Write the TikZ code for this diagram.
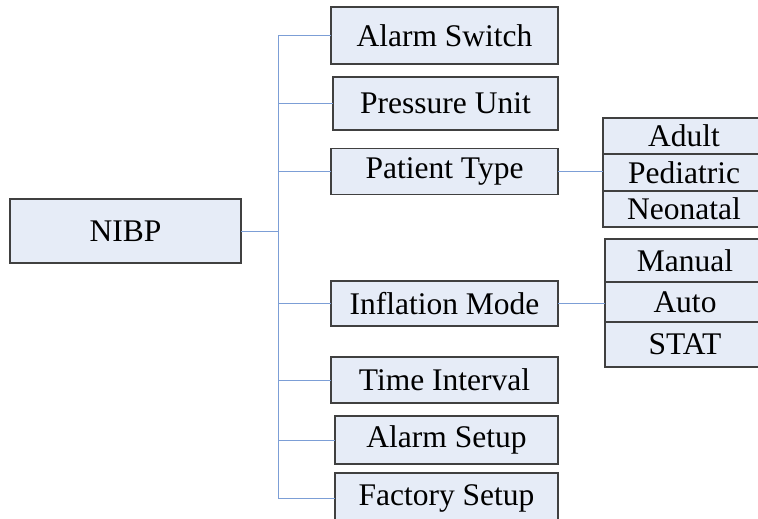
\documentclass[tikz,border=0pt]{standalone}
\usepackage{fontspec}
\setmainfont{Liberation Serif}
\definecolor{boxfill}{HTML}{E6ECF7}
\definecolor{boxline}{HTML}{404040}
\definecolor{linkblue}{HTML}{7C9ED6}
\begin{document}
\begin{tikzpicture}[x=1pt,y=1pt,
  box/.style={draw=boxline,fill=boxfill,line width=1.2pt,inner sep=0pt,outer sep=0pt,
    font=\fontsize{31.5}{36}\selectfont,text=black},
  link/.style={draw=linkblue,line width=1pt}]
\useasboundingbox (0,0) rectangle (758,-519);
\clip (0,0) rectangle (758,-519);
% main node
\node[box,minimum width=231pt,minimum height=64pt] (nibp) at (125.5,-231) {NIBP};
% second level
\node[box,minimum width=227pt,minimum height=57pt] (as) at (444.5,-35.5) {Alarm Switch};
\node[box,minimum width=225pt,minimum height=53pt] (pu) at (445.5,-103.5) {Pressure Unit};
\node[box,minimum width=227pt,minimum height=46pt] (pt) at (444.5,-171.5) {Patient Type};
\node[box,minimum width=227pt,minimum height=45pt] (im) at (444.5,-303.5) {Inflation Mode};
\node[box,minimum width=227pt,minimum height=46pt] (ti) at (444.5,-380) {Time Interval};
\node[box,minimum width=223pt,minimum height=48pt] (alset) at (446.5,-440) {Alarm Setup};
\node[box,minimum width=223pt,minimum height=50pt] (fs) at (446.5,-498) {Factory Setup};
% third level: patient type
\node[box,minimum width=162pt,minimum height=36pt] (adult) at (684,-136) {Adult};
\node[box,minimum width=162pt,minimum height=37pt] (ped) at (684,-172.5) {Pediatric};
\node[box,minimum width=162pt,minimum height=36pt] (neo) at (684,-209) {Neonatal};
% third level: inflation mode
\node[box,minimum width=160pt,minimum height=43pt] (manual) at (685,-260.5) {Manual};
\node[box,minimum width=160pt,minimum height=40pt] (auto) at (685,-302) {Auto};
\node[box,minimum width=160pt,minimum height=45pt] (stat) at (685,-344.5) {STAT};
% trunk
\coordinate (trunktop) at (278,-36);
\coordinate (trunkbot) at (278,-498);
\draw[link] (trunktop) -- (trunkbot);
\draw[link] (nibp.east) -- (trunktop |- nibp.east);
\foreach \n in {as,pu,pt,im,ti,alset,fs}{
  \draw[link] (trunktop |- \n.west) -- (\n.west);
}
\draw[link] (pt.east) -- (pt.east -| ped.west);
\draw[link] (im.east) -- (im.east -| auto.west);
\end{tikzpicture}
\end{document}
